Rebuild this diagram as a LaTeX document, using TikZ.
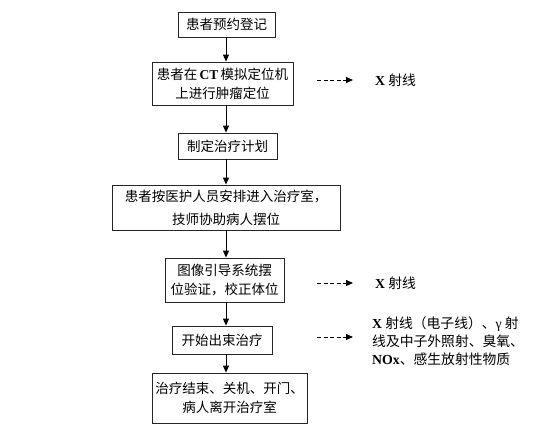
\documentclass[tikz,border=0pt]{standalone}
\usepackage{fontspec}
\setmainfont{Noto Sans CJK SC}
\newfontfamily\latinfont{Liberation Serif}
\newcommand{\enb}[1]{{\latinfont\bfseries #1}}
\usepackage{tikz}
\usetikzlibrary{arrows.meta, positioning, calc}

\begin{document}
\begin{tikzpicture}[x=1pt,y=-1pt,
    box/.style={draw=black!85, line width=0.8pt, align=center, inner sep=0pt,
        font=\fontsize{13.5}{19}\selectfont},
    lbl/.style={align=left, inner sep=0pt, font=\fontsize{13.8}{18}\selectfont},
    flow/.style={-{Triangle[length=7pt,width=6pt]}, line width=0.9pt},
    dasharr/.style={-{Triangle[length=7pt,width=6pt]}, dash pattern=on 4pt off 2.5pt, line width=0.8pt}]

        \useasboundingbox (0,0) rectangle (534,429); % 画布

        % 流程框
        \node[box, minimum width=97pt, minimum height=25pt] (reg) at (226.5,24.5) {患者预约登记}; % 登记
        \node[box, minimum width=141pt, minimum height=43pt] (ct) at (222.5,83.5) {患者在\,\enb{CT}\,模拟定位机\\上进行肿瘤定位}; % CT 定位
        \node[box, minimum width=99pt, minimum height=26pt] (plan) at (227.5,146) {制定治疗计划}; % 计划
        \node[box, minimum width=228pt, minimum height=45pt,
            font=\fontsize{13.5}{23}\selectfont] (enter) at (226,207.5) {患者按医护人员安排进入治疗室，\\技师协助病人摆位}; % 摆位
        \node[box, minimum width=119pt, minimum height=44pt] (igrt) at (224.5,280) {图像引导系统摆\\位验证，校正体位}; % 验证
        \node[box, minimum width=100pt, minimum height=28pt] (beam) at (222,340) {开始出束治疗}; % 出束
        \node[box, minimum width=155pt, minimum height=50pt] (done) at (229.5,398) {治疗结束、关机、开门、\\病人离开治疗室}; % 结束

        % 竖向箭头
        \draw[flow] (226,0 |- reg.south) -- (226,0 |- ct.north);
        \draw[flow] (226,0 |- ct.south) -- (226,0 |- plan.north);
        \draw[flow] (226,0 |- plan.south) -- (226,0 |- enter.north);
        \draw[flow] (226,0 |- enter.south) -- (226,0 |- igrt.north);
        \draw[flow] (226,0 |- igrt.south) -- (226,0 |- beam.north);
        \draw[flow] (226,0 |- beam.south) -- (226,0 |- done.north);

        % 右侧辐射说明
        \node[lbl, anchor=west] (ray1) at (375,80) {\enb{X} 射线};
        \node[lbl, anchor=west] (ray2) at (375,283) {\enb{X} 射线};
        \node[lbl, anchor=west] (ray3) at (372,341) {\enb{X} 射线（电子线）、{\latinfont γ} 射\\线及中子外照射、臭氧、\\\enb{NOx}、感生放射性物质};

        \coordinate (d1) at (317,80);
        \coordinate (d2) at (317,283);
        \coordinate (d3) at (317,337);
        \draw[dasharr] (d1) -- ++(36,0);
        \draw[dasharr] (d2) -- ++(36,0);
        \draw[dasharr] (d3) -- ++(36,0);

\end{tikzpicture}
\end{document}
